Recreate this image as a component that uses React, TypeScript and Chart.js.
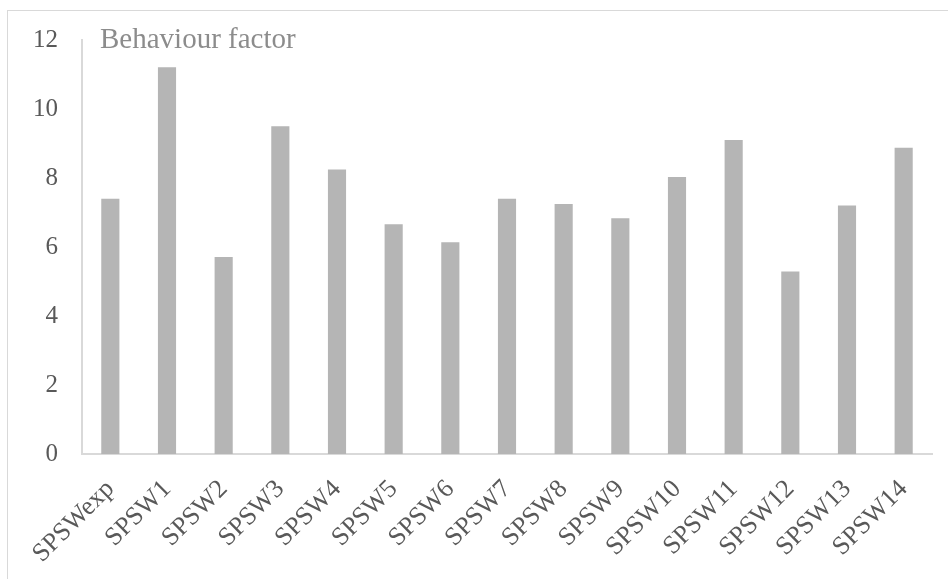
import React, { useEffect, useRef } from "react";
import { Chart, registerables } from "chart.js";

Chart.register(...registerables);

const categories = [
  "SPSWexp", "SPSW1", "SPSW2", "SPSW3", "SPSW4", "SPSW5", "SPSW6", "SPSW7",
  "SPSW8", "SPSW9", "SPSW10", "SPSW11", "SPSW12", "SPSW13", "SPSW14",
];
const behaviourFactor = [
  7.4, 11.21, 5.71, 9.5, 8.25, 6.66, 6.14, 7.4, 7.25, 6.83, 8.03, 9.1, 5.29, 7.2, 8.88,
];
const chartTitle = "Behaviour factor";
const serif = "'Liberation Serif', 'Times New Roman', serif";

// Frame around the chart plus the inline title next to the y axis
const decorations = {
  id: "decorations",
  beforeDraw(chart: any) {
    const { ctx } = chart;
    ctx.save();
    ctx.strokeStyle = "#d9d9d9";
    ctx.lineWidth = 1;
    ctx.strokeRect(7.5, 10.5, chart.width + 10, chart.height + 10);
    ctx.restore();
  },
  afterDraw(chart: any) {
    const { ctx, chartArea } = chart;
    ctx.save();
    ctx.fillStyle = "#8c8c8c";
    ctx.font = `29px ${serif}`;
    ctx.textAlign = "left";
    ctx.textBaseline = "alphabetic";
    ctx.fillText(chartTitle, chartArea.left + 18, 48);
    ctx.restore();
  },
};

export default function App() {
  const canvasRef = useRef<HTMLCanvasElement | null>(null);

  useEffect(() => {
    if (!canvasRef.current) return;
    const chart = new Chart(canvasRef.current, {
      type: "bar",
      data: {
        labels: categories,
        datasets: [
          {
            label: chartTitle,
            data: behaviourFactor,
            backgroundColor: "#b5b5b5",
            borderWidth: 0,
            barPercentage: 0.32,
            categoryPercentage: 1,
          },
        ],
      },
      options: {
        animation: false,
        responsive: false,
        devicePixelRatio: 1,
        layout: { padding: { left: 0, top: 40, right: 16, bottom: 0 } },
        plugins: {
          legend: { display: false },
          tooltip: { enabled: false },
          title: { display: false },
        },
        scales: {
          x: {
            grid: { display: false, drawTicks: false },
            border: { display: true, color: "#d9d9d9", width: 2 },
            ticks: {
              color: "#595959",
              font: { family: serif, size: 26 },
              minRotation: 45,
              maxRotation: 45,
              padding: 20,
              autoSkip: false,
            },
            afterFit(scale: any) {
              scale.height = 125;
            },
          },
          y: {
            min: 0,
            max: 12,
            grid: { display: false, drawTicks: false },
            border: { display: true, color: "#d9d9d9", width: 2 },
            ticks: {
              stepSize: 2,
              color: "#595959",
              font: { family: serif, size: 25 },
              padding: 24,
            },
            afterFit(scale: any) {
              scale.width = 82;
            },
          },
        },
      },
      plugins: [decorations],
    });
    return () => chart.destroy();
  }, []);

  return (
    <div style={{ position: "fixed", left: 0, top: 0, width: 948, height: 579, background: "#fff" }}>
      <canvas ref={canvasRef} width={948} height={579} style={{ display: "block" }} />
    </div>
  );
}
